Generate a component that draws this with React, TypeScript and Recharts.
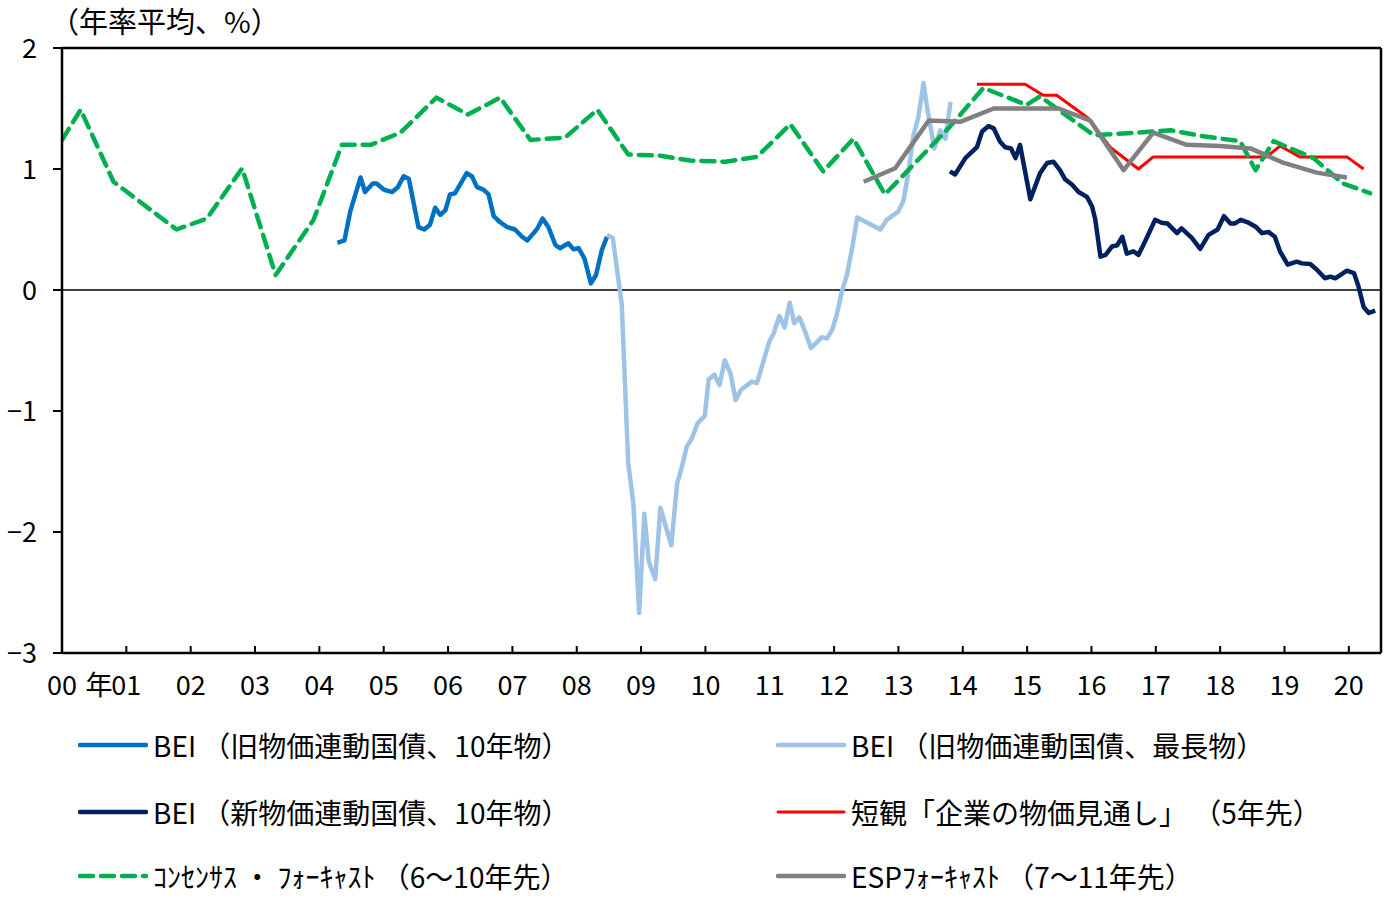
import React from 'react';
import { LineChart, Line, XAxis, YAxis, ReferenceLine } from 'recharts';

const FONT = '"Noto Sans CJK JP", "Noto Sans", sans-serif';

// x values are years since the start of 2000 (0 = 2000, 20 = 2020)
const yearTicks = [0, 1, 2, 3, 4, 5, 6, 7, 8, 9, 10, 11, 12, 13, 14, 15, 16, 17, 18, 19, 20];
const yearLabels = ['00', '01', '02', '03', '04', '05', '06', '07', '08', '09', '10', '11', '12', '13', '14', '15', '16', '17', '18', '19', '20'];
const valueTicks = [-3, -2, -1, 0, 1, 2];
const valueLabels = ['−3', '−2', '−1', '0', '1', '2'];

// BEI (old inflation-indexed JGB, 10-year)
const bei10Old: [number, number][] = [
  [4.28, 0.39], [4.39, 0.41], [4.48, 0.65], [4.64, 0.93], [4.71, 0.81], [4.83, 0.88], [4.89, 0.88],
  [5.0, 0.83], [5.13, 0.81], [5.22, 0.85], [5.31, 0.94], [5.39, 0.92], [5.54, 0.52], [5.63, 0.5],
  [5.72, 0.54], [5.8, 0.68], [5.88, 0.62], [5.96, 0.66], [6.03, 0.79], [6.11, 0.8], [6.29, 0.965],
  [6.37, 0.94], [6.45, 0.85], [6.55, 0.83], [6.63, 0.79], [6.71, 0.61], [6.81, 0.56], [6.92, 0.52],
  [7.04, 0.5], [7.15, 0.44], [7.23, 0.41], [7.33, 0.47], [7.39, 0.51], [7.47, 0.59], [7.56, 0.52],
  [7.67, 0.37], [7.74, 0.345], [7.87, 0.386], [7.95, 0.336], [8.03, 0.345], [8.12, 0.26],
  [8.22, 0.055], [8.3, 0.124], [8.39, 0.33], [8.47, 0.44],
];

// BEI (old inflation-indexed JGB, longest maturity)
const beiLongest: [number, number][] = [
  [8.47, 0.455], [8.56, 0.43], [8.7, -0.12], [8.8, -1.43], [8.88, -1.76], [8.97, -2.67], [9.05, -1.85],
  [9.12, -2.245], [9.22, -2.39], [9.3, -1.8], [9.47, -2.11], [9.56, -1.6], [9.63, -1.47], [9.71, -1.295],
  [9.79, -1.225], [9.88, -1.1], [9.99, -1.04], [10.05, -0.74], [10.14, -0.7], [10.22, -0.785],
  [10.3, -0.58], [10.39, -0.69], [10.47, -0.91], [10.55, -0.826], [10.72, -0.757], [10.8, -0.77],
  [10.89, -0.61], [10.99, -0.43], [11.06, -0.36], [11.15, -0.215], [11.23, -0.31], [11.31, -0.105],
  [11.38, -0.275], [11.46, -0.226], [11.55, -0.345], [11.64, -0.48], [11.81, -0.39], [11.89, -0.4],
  [11.97, -0.33], [12.04, -0.207], [12.12, -0.014], [12.2, 0.124], [12.28, 0.345], [12.36, 0.6],
  [12.72, 0.5], [12.82, 0.58], [13.0, 0.65], [13.08, 0.74], [13.16, 0.99], [13.23, 1.27], [13.31, 1.43],
  [13.39, 1.71], [13.45, 1.49], [13.56, 1.17], [13.65, 1.32], [13.73, 1.25], [13.81, 1.555],
];

// BEI (new inflation-indexed JGB, 10-year)
const bei10New: [number, number][] = [
  [13.8, 0.98], [13.88, 0.955], [14.04, 1.09], [14.22, 1.18], [14.3, 1.31], [14.4, 1.355], [14.48, 1.336],
  [14.58, 1.226], [14.66, 1.18], [14.75, 1.17], [14.82, 1.09], [14.89, 1.2], [15.05, 0.75], [15.2, 0.964],
  [15.31, 1.05], [15.41, 1.06], [15.51, 0.99], [15.59, 0.915], [15.7, 0.87], [15.8, 0.81], [15.93, 0.77],
  [16.01, 0.69], [16.06, 0.58], [16.14, 0.275], [16.22, 0.29], [16.32, 0.36], [16.4, 0.37], [16.48, 0.44],
  [16.55, 0.3], [16.65, 0.32], [16.73, 0.29], [16.84, 0.41], [16.99, 0.58], [17.09, 0.556], [17.18, 0.55],
  [17.33, 0.47], [17.4, 0.51], [17.56, 0.43], [17.69, 0.34], [17.82, 0.455], [17.96, 0.5], [18.06, 0.61],
  [18.16, 0.55], [18.23, 0.55], [18.32, 0.58], [18.44, 0.556], [18.56, 0.52], [18.65, 0.47], [18.75, 0.48],
  [18.85, 0.44], [18.93, 0.32], [19.05, 0.21], [19.19, 0.234], [19.27, 0.22], [19.4, 0.215], [19.5, 0.17],
  [19.63, 0.097], [19.71, 0.11], [19.79, 0.097], [19.97, 0.16], [20.08, 0.14], [20.15, 0.03],
  [20.23, -0.14], [20.31, -0.19], [20.41, -0.17],
];

// Tankan: firms' outlook for general prices, 5 years ahead
const tankan: [number, number][] = [
  [14.22, 1.7], [14.97, 1.7], [15.25, 1.61], [15.46, 1.61], [15.95, 1.42], [16.29, 1.18], [16.73, 1.0],
  [16.96, 1.1], [18.72, 1.1], [18.93, 1.19], [19.24, 1.1], [19.97, 1.1], [20.23, 1.0],
];

// Consensus Forecasts (6-10 years ahead)
const consensus: [number, number][] = [
  [0.0, 1.24], [0.29, 1.49], [0.8, 0.895], [1.78, 0.5], [2.25, 0.59], [2.8, 1.005], [3.32, 0.124],
  [3.91, 0.58], [4.35, 1.2], [4.8, 1.2], [5.26, 1.3], [5.82, 1.59], [6.31, 1.45], [6.81, 1.59],
  [7.28, 1.24], [7.82, 1.26], [8.32, 1.49], [8.8, 1.12], [9.3, 1.11], [9.76, 1.07], [10.31, 1.06],
  [10.8, 1.1], [11.32, 1.37], [11.83, 0.98], [12.3, 1.25], [12.79, 0.79], [13.8, 1.35], [14.32, 1.67],
  [14.99, 1.53], [15.2, 1.6], [15.93, 1.32], [16.03, 1.28], [16.7, 1.3], [17.23, 1.32], [17.74, 1.27],
  [18.31, 1.23], [18.55, 0.99], [18.83, 1.23], [19.45, 1.09], [19.91, 0.88], [20.33, 0.8],
];

// ESP Forecast (7-11 years ahead)
const esp: [number, number][] = [
  [12.46, 0.895], [12.95, 1.006], [13.47, 1.4], [13.96, 1.39], [14.48, 1.5], [15.49, 1.5], [15.98, 1.4],
  [16.5, 0.99], [16.96, 1.3], [17.48, 1.2], [18.0, 1.19], [18.47, 1.17], [18.99, 1.05], [19.5, 0.97],
  [19.97, 0.93],
];

const toRows = (pts: [number, number][]) => pts.map(([t, v]) => ({ t, v }));

type SeriesDef = { name: string; pts: [number, number][]; color: string; width: number; dash?: string };

const seriesDefs: SeriesDef[] = [
  { name: 'BEI （旧物価連動国債、10年物）', pts: bei10Old, color: '#0070C0', width: 4.5 },
  { name: 'BEI （旧物価連動国債、最長物）', pts: beiLongest, color: '#9DC3E6', width: 4.5 },
  { name: 'BEI （新物価連動国債、10年物）', pts: bei10New, color: '#002060', width: 4.5 },
  { name: '短観「企業の物価見通し」 （5年先）', pts: tankan, color: '#FF0000', width: 3 },
  { name: 'ｺﾝｾﾝｻｽ ・ ﾌｫｰｷｬｽﾄ （6～10年先）', pts: consensus, color: '#00B050', width: 4.5, dash: '13 8' },
  { name: 'ESPﾌｫｰｷｬｽﾄ （7～11年先）', pts: esp, color: '#808080', width: 4.5 },
];

// legend placement: two columns, three rows
const legendOrder = [0, 1, 2, 3, 4, 5];
const legendCols = [78, 776];
const legendRows = [745, 812, 876];

const textStyle: any = {
  fontFamily: FONT,
  color: '#000',
  whiteSpace: 'nowrap',
  textSpacingTrim: 'space-all',
};

const YearTick = (props: any) => {
  const { x, y, payload } = props;
  const label = yearLabels[payload.value];
  if (payload.value === 0) {
    return (
      <g fontFamily={FONT} fontSize={27} fill="#000">
        <text x={x} y={y} textAnchor="middle">{label}</text>
        <text x={x + 37} y={y} textAnchor="middle">年</text>
      </g>
    );
  }
  return (
    <text x={x} y={y} textAnchor="middle" fontFamily={FONT} fontSize={27} fill="#000">
      {label}
    </text>
  );
};

const ValueTick = (props: any) => {
  const { x, y, payload } = props;
  const i = valueTicks.indexOf(payload.value);
  return (
    <text x={x} y={y + 10} textAnchor="end" fontFamily={FONT} fontSize={27} fill="#000">
      {valueLabels[i]}
    </text>
  );
};

export default function App() {
  return (
    <div style={{ position: 'absolute', left: 0, top: 0, width: 1389, height: 897, background: '#fff', overflow: 'hidden' }}>
      <div style={{ ...textStyle, position: 'absolute', left: 50, top: 1, fontSize: 29, lineHeight: '38px' }}>
        （年率平均、%）
      </div>
      <LineChart width={1389} height={897} margin={{ top: 48, right: 8, left: 0, bottom: 0 }}>
        <XAxis
          type="number"
          dataKey="t"
          domain={[0, 20.5]}
          ticks={yearTicks}
          interval={0}
          allowDataOverflow
          height={244}
          tickSize={-7}
          tickMargin={49}
          tick={<YearTick />}
          axisLine={{ stroke: '#000', strokeWidth: 2.5 }}
          tickLine={{ stroke: '#000', strokeWidth: 2 }}
        />
        <YAxis
          type="number"
          domain={[-3, 2]}
          ticks={valueTicks}
          interval={0}
          width={62}
          tickSize={9}
          tickMargin={16}
          tick={<ValueTick />}
          axisLine={{ stroke: '#000', strokeWidth: 2.5 }}
          tickLine={{ stroke: '#000', strokeWidth: 2 }}
        />
        <ReferenceLine y={2} stroke="#000" strokeWidth={2.5} />
        <ReferenceLine x={20.5} stroke="#000" strokeWidth={2.5} />
        <ReferenceLine y={0} stroke="#000" strokeWidth={1.5} />
        {seriesDefs.map((s) => (
          <Line
            key={s.name}
            data={toRows(s.pts)}
            dataKey="v"
            type="linear"
            stroke={s.color}
            strokeWidth={s.width}
            strokeDasharray={s.dash}
            strokeLinejoin="round"
            strokeLinecap={s.dash ? 'round' : 'butt'}
            dot={false}
            activeDot={false}
            isAnimationActive={false}
          />
        ))}
      </LineChart>
      {legendOrder.map((idx, k) => {
        const s = seriesDefs[idx];
        const left = legendCols[k % 2];
        const cy = legendRows[Math.floor(k / 2)];
        return (
          <div
            key={s.name}
            style={{
              ...textStyle, position: 'absolute', left, top: cy - 16, height: 32, lineHeight: '32px',
              display: 'flex', alignItems: 'center', fontSize: 28,
            }}
          >
            <svg width={70} height={32} style={{ display: 'block' }}>
              <line
                x1={2}
                x2={68}
                y1={16}
                y2={16}
                stroke={s.color}
                strokeWidth={s.width}
                strokeDasharray={s.dash}
                strokeLinecap="round"
              />
            </svg>
            <span style={{ marginLeft: 5 }}>{s.name}</span>
          </div>
        );
      })}
    </div>
  );
}
